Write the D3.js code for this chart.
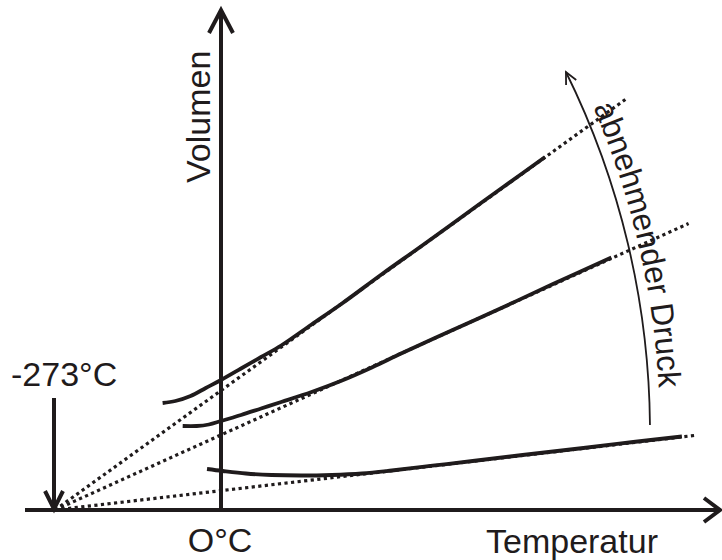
<!DOCTYPE html>
<html>
<head>
<meta charset="utf-8">
<script src="https://cdn.jsdelivr.net/npm/d3@7/dist/d3.min.js"></script>
<style>
  html, body { margin: 0; padding: 0; background: #ffffff; }
  svg { display: block; }
  text { font-family: "Liberation Sans", Arial, Helvetica, sans-serif; fill: #1f1b1c; }
</style>
</head>
<body>
<svg id="chart" width="722" height="560"></svg>
<script>
// ---------- data ----------
const tickLabels = ["-273°C", "O°C"];
const xTitle = "Temperatur";
const yTitle = "Volumen";
const annotationText = "abnehmender Druck";

const absoluteZero = -273;              // °C
// ideal gas (dotted) lines: from absolute zero to these end points
const idealEndT = [665, 769, 778];
const idealEndV = [8.21, 5.73, 1.49];

// real gas (solid) curves, one per pressure
const realT1 = [-96, -75, -50, -25, 0, 33, 66, 99, 149, 199, 265, 331, 397, 463, 533];
const realV1 = [2.14, 2.18, 2.28, 2.44, 2.60, 2.83, 3.06, 3.29, 3.71, 4.13, 4.72, 5.29, 5.87, 6.45, 7.06];
const realT2 = [-63, -40, -20, 0, 33, 66, 99, 149, 199, 248, 298, 381, 463, 546, 642];
const realV2 = [1.68, 1.68, 1.71, 1.78, 1.90, 2.03, 2.16, 2.36, 2.59, 2.85, 3.14, 3.60, 4.05, 4.52, 5.05];
const realT3 = [-23, 3, 41, 83, 132, 182, 232, 281, 348, 414, 496, 596, 678, 758];
const realV3 = [0.82, 0.78, 0.73, 0.70, 0.69, 0.70, 0.73, 0.79, 0.886, 0.98, 1.10, 1.24, 1.36, 1.47];

// ---------- drawing ----------
const ink = "#1f1b1c";
const svg = d3.select("#chart");
const x = d3.scaleLinear().domain([absoluteZero, 0]).range([55, 221]);
const y = d3.scaleLinear().domain([0, 10]).range([510, 10]);

// ideal (dotted) lines
const lineGen = d3.line().x(d => x(d[0])).y(d => y(d[1]));
idealEndT.forEach((t, i) => {
  svg.append("path")
    .attr("d", lineGen([[absoluteZero, 0], [t, idealEndV[i]]]))
    .attr("fill", "none")
    .attr("stroke", ink)
    .attr("stroke-width", 3.2)
    .attr("stroke-dasharray", "3.2 3.4");
});

// real (solid) curves
const curveGen = d3.line().x(d => x(d[0])).y(d => y(d[1])).curve(d3.curveCatmullRom.alpha(0.5));
[[realT1, realV1], [realT2, realV2], [realT3, realV3]].forEach(([ts, vs]) => {
  svg.append("path")
    .attr("d", curveGen(ts.map((t, i) => [t, vs[i]])))
    .attr("fill", "none")
    .attr("stroke", ink)
    .attr("stroke-width", 3.8)
    .attr("stroke-linecap", "butt");
});

// axes
const y0 = y(0), x0 = x(0);
svg.append("line").attr("x1", 25).attr("y1", y0).attr("x2", 719).attr("y2", y0)
  .attr("stroke", ink).attr("stroke-width", 4);
svg.append("line").attr("x1", x0).attr("y1", y0).attr("x2", x0).attr("y2", 12)
  .attr("stroke", ink).attr("stroke-width", 4);
// arrow heads (open chevrons)
svg.append("path").attr("d", `M${x0 - 12},33 L${x0},10 L${x0 + 12},33`)
  .attr("fill", "none").attr("stroke", ink).attr("stroke-width", 4).attr("stroke-linejoin", "miter");
svg.append("path").attr("d", `M704,${y0 - 12} L720,${y0} L704,${y0 + 12}`)
  .attr("fill", "none").attr("stroke", ink).attr("stroke-width", 4).attr("stroke-linejoin", "miter");

// -273 °C marker arrow
const xz = x(absoluteZero) - 1;
svg.append("line").attr("x1", xz).attr("y1", 398).attr("x2", xz).attr("y2", y0 - 2)
  .attr("stroke", ink).attr("stroke-width", 4);
svg.append("path").attr("d", `M${xz - 9},491 L${xz},${y0 - 1} L${xz + 9},491`)
  .attr("fill", "none").attr("stroke", ink).attr("stroke-width", 4);

// labels
svg.append("text").attr("x", 11).attr("y", 386).attr("font-size", 34).text(tickLabels[0]);
svg.append("text").attr("x", x0 - 1).attr("y", 552).attr("text-anchor", "middle").attr("font-size", 34).text(tickLabels[1]);
svg.append("text").attr("x", 486).attr("y", 553).attr("font-size", 34).text(xTitle);
svg.append("text").attr("transform", "translate(210,183) rotate(-90)").attr("font-size", 34).text(yTitle);

// pressure arc with arrow
const cx = -163, cy = 432, R = 813;
const aBottom = Math.atan2(425 - cy, 650 - cx);
const aTop = Math.atan2(72 - cy, 566 - cx);
const arc = d3.path();
arc.moveTo(cx + R * Math.cos(aBottom), cy + R * Math.sin(aBottom));
arc.arc(cx, cy, R, aBottom, aTop, true);
svg.append("path").attr("d", arc.toString()).attr("fill", "none").attr("stroke", ink).attr("stroke-width", 1.8);
// arrowhead at the top
const tx = cx + R * Math.cos(aTop), ty = cy + R * Math.sin(aTop);
const dir = [Math.sin(aTop), -Math.cos(aTop)];  // travel direction at top
const back = [-dir[0], -dir[1]];
function rot(v, a) { return [v[0] * Math.cos(a) - v[1] * Math.sin(a), v[0] * Math.sin(a) + v[1] * Math.cos(a)]; }
const w1 = rot(back, 0.45), w2 = rot(back, -0.45), L = 13;
svg.append("path")
  .attr("d", `M${tx + w1[0] * L},${ty + w1[1] * L} L${tx},${ty} L${tx + w2[0] * L},${ty + w2[1] * L}`)
  .attr("fill", "none").attr("stroke", ink).attr("stroke-width", 1.8);

// annotation text along arc
const Rt = R + 10;
const aS = Math.asin((107 - cy) / Rt), aE = Math.asin((430 - cy) / Rt);
const tp = d3.path();
tp.moveTo(cx + Rt * Math.cos(aS), cy + Rt * Math.sin(aS));
tp.arc(cx, cy, Rt, aS, aE, false);
svg.append("defs").append("path").attr("id", "txtArc").attr("d", tp.toString());
svg.append("text").attr("font-size", 32)
  .append("textPath").attr("href", "#txtArc").text(annotationText);
</script>
</body>
</html>
